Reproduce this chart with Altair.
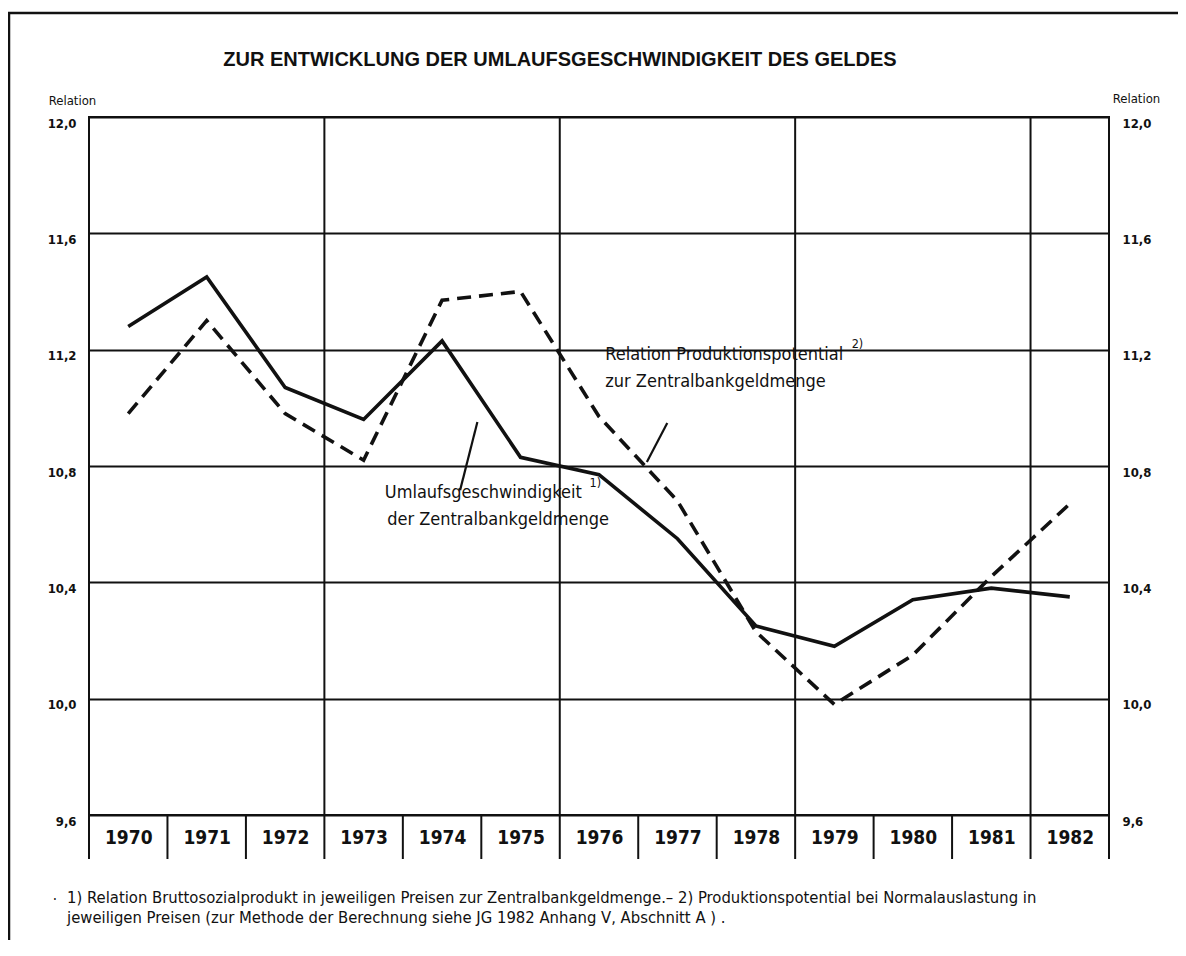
import altair as alt
import pandas as pd

# ---- data ----
years = list(range(1970, 1983))
umlauf = [11.28, 11.45, 11.07, 10.96, 11.23, 10.83, 10.77, 10.55, 10.25, 10.18, 10.34, 10.38, 10.35]
produktion = [10.98, 11.30, 10.98, 10.82, 11.37, 11.40, 10.97, 10.68, 10.23, 9.98, 10.15, 10.42, 10.67]
y_ticks = [9.6, 10.0, 10.4, 10.8, 11.2, 11.6, 12.0]
grid_years = [1972.5, 1975.5, 1978.5, 1981.5]

title_text = "ZUR ENTWICKLUNG DER UMLAUFSGESCHWINDIGKEIT DES GELDES"
footnote_1 = "1) Relation Bruttosozialprodukt in jeweiligen Preisen zur Zentralbankgeldmenge.\u2013  2) Produktionspotential bei Normalauslastung in"
footnote_2 = "jeweiligen Preisen   (zur Methode der Berechnung siehe  JG 1982  Anhang V,  Abschnitt A ) ."

ann_text = ["Relation Produktionspotential", "zur Zentralbankgeldmenge",
            "Umlaufsgeschwindigkeit", "der Zentralbankgeldmenge"]
ann_x = [1976.08, 1976.08, 1973.27, 1973.30]
ann_y = [11.18, 11.09, 10.707, 10.614]
sup_text = ["2)", "1)"]
sup_x = [1979.22, 1975.88]
sup_y = [11.22, 10.74]
lead_x = [1976.87, 1974.45]
lead_y = [10.948, 10.951]
lead_x2 = [1976.61, 1974.23]
lead_y2 = [10.814, 10.717]

FONT = "DejaVu Sans Condensed, Liberation Sans, sans-serif"
INK = "#111111"

df = pd.DataFrame({"year": years, "umlauf": umlauf, "produktion": produktion})
bounds = pd.DataFrame({"b": [y - 0.5 for y in years] + [years[-1] + 0.5]})
grid_df = pd.DataFrame({"g": grid_years})
ann_df = pd.DataFrame({"t": ann_text, "x": ann_x, "y": ann_y})
sup_df = pd.DataFrame({"t": sup_text, "x": sup_x, "y": sup_y})
lead_df = pd.DataFrame({"x": lead_x, "y": lead_y, "x2": lead_x2, "y2": lead_y2})
one = pd.DataFrame({"a": [0]})

xscale = alt.Scale(domain=[years[0] - 0.5, years[-1] + 0.5], nice=False, zero=False)
yscale = alt.Scale(domain=[y_ticks[0], y_ticks[-1]], nice=False, zero=False)
label_expr = "replace(format(datum.value, '.1f'), '.', ',')"

x_axis = alt.Axis(values=years, format="d", ticks=False, domain=False, grid=False,
                  labelFont=FONT, labelFontSize=19, labelFontWeight="bold", labelColor=INK,
                  labelPadding=13, labelFlush=False, title=None)

def X(field):
    return alt.X(field, scale=xscale, axis=x_axis)

left_axis = alt.Axis(values=y_ticks, labelExpr=label_expr, orient="left", ticks=False,
                     domain=False, grid=True, gridColor=INK, gridWidth=1.8, gridOpacity=1,
                     labelFont=FONT, labelFontSize=13, labelFontWeight="bold", labelColor=INK,
                     labelPadding=13, labelOffset=6, labelFlush=False,
                     title="Relation", titleFont=FONT, titleFontSize=13, titleFontWeight="normal",
                     titleColor=INK, titleAngle=0, titleAlign="center", titleBaseline="middle",
                     titleX=-17, titleY=-17)
right_axis = alt.Axis(values=y_ticks, labelExpr=label_expr, orient="right", ticks=False,
                      domain=False, grid=False,
                      labelFont=FONT, labelFontSize=13, labelFontWeight="bold", labelColor=INK,
                      labelPadding=13, labelOffset=6, labelFlush=False,
                      title="Relation", titleFont=FONT, titleFontSize=13, titleFontWeight="normal",
                      titleColor=INK, titleAngle=0, titleAlign="center", titleBaseline="middle",
                      titleX=27, titleY=-19)

solid = alt.Chart(df).mark_line(color=INK, strokeWidth=3.6).encode(
    x=X("year:Q"),
    y=alt.Y("umlauf:Q", scale=yscale, axis=left_axis),
)
dashed = alt.Chart(df).mark_line(color=INK, strokeWidth=3.6, strokeDash=[14, 8]).encode(
    x=X("year:Q"),
    y=alt.Y("produktion:Q", scale=yscale, axis=right_axis),
)

vgrid = alt.Chart(grid_df).mark_rule(color=INK, strokeWidth=2).encode(x=X("g:Q"))
separators = alt.Chart(bounds).mark_rule(color=INK, strokeWidth=2).encode(
    x=X("b:Q"), y=alt.value(698), y2=alt.value(742),
)

ann = alt.Chart(ann_df).mark_text(font=FONT, fontSize=18, align="left", baseline="middle",
                                   color=INK).encode(
    x=X("x:Q"), y=alt.Y("y:Q", scale=yscale, axis=None), text="t:N",
)
sup = alt.Chart(sup_df).mark_text(font=FONT, fontSize=12.5, align="left", baseline="middle",
                                  color=INK).encode(
    x=X("x:Q"), y=alt.Y("y:Q", scale=yscale, axis=None), text="t:N",
)
leaders = alt.Chart(lead_df).mark_rule(color=INK, strokeWidth=2.2).encode(
    x=X("x:Q"), y=alt.Y("y:Q", scale=yscale, axis=None), x2="x2:Q", y2="y2:Q",
)

title = alt.Chart(one).mark_text(font="Liberation Sans, sans-serif", fontSize=20,
                                 fontWeight="bold", align="center", baseline="middle",
                                 color=INK).encode(
    x=alt.value(471), y=alt.value(-57), text=alt.value(title_text))
foot1 = alt.Chart(one).mark_text(font=FONT, fontSize=16.5, align="left", baseline="middle",
                                 color=INK).encode(
    x=alt.value(-22), y=alt.value(781), text=alt.value(footnote_1))
foot2 = alt.Chart(one).mark_text(font=FONT, fontSize=16.5, align="left", baseline="middle",
                                 color=INK).encode(
    x=alt.value(-22), y=alt.value(801), text=alt.value(footnote_2))
bullet = alt.Chart(one).mark_text(font=FONT, fontSize=15, align="center", baseline="middle",
                                  color=INK).encode(
    x=alt.value(-34), y=alt.value(783), text=alt.value("\u00b7"))

frame_top = alt.Chart(one).mark_rule(color=INK, strokeWidth=2.5).encode(
    x=alt.value(-81), x2=alt.value(1100), y=alt.value(-104))
frame_left = alt.Chart(one).mark_rule(color=INK, strokeWidth=2.5).encode(
    x=alt.value(-80), y=alt.value(-104), y2=alt.value(830))

chart = alt.layer(
    vgrid, separators, solid, dashed, leaders, ann, sup, title, foot1, foot2, bullet,
    frame_top, frame_left
).resolve_axis(y="independent").properties(
    width=1020, height=698,
    autosize=alt.AutoSizeParams(type="none"),
    padding={"left": 81, "top": 109, "right": 69, "bottom": 125},
    background="white",
).configure_view(stroke=INK, strokeWidth=2)

chart.save("out.html", embed_options={"renderer": "svg", "actions": False})
